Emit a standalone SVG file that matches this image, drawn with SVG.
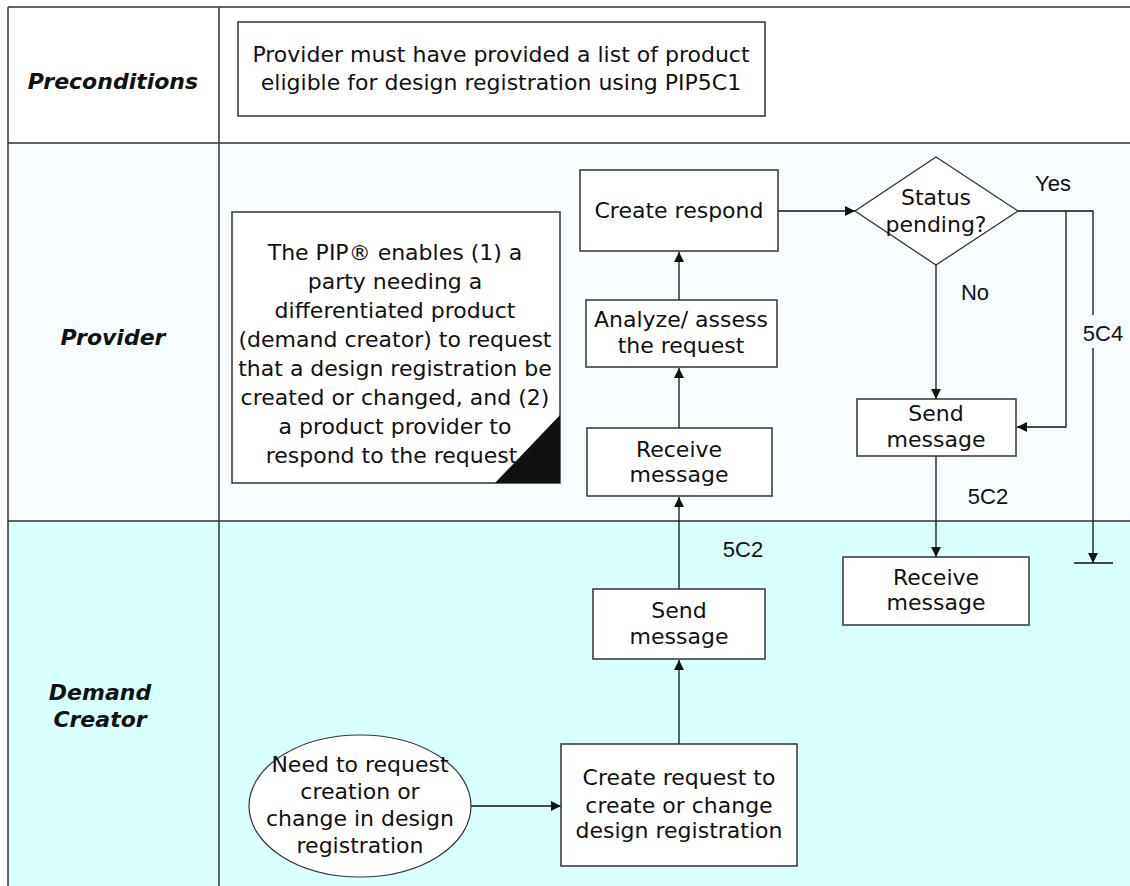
<svg xmlns="http://www.w3.org/2000/svg" width="1130" height="886" viewBox="0 0 1130 886">
<style>
.lane{font-family:"DejaVu Sans",Verdana,sans-serif;font-size:22px;font-weight:bold;font-style:italic;fill:#111;text-anchor:middle}
.t{font-family:"DejaVu Sans",Verdana,sans-serif;font-size:22px;fill:#111;text-anchor:middle}
.lbl{font-family:"Liberation Sans",Arial,sans-serif;font-size:22px;fill:#111;text-anchor:middle}
.box{fill:#fff;stroke:#333;stroke-width:1.5}
.c{fill:none;stroke:#111;stroke-width:1.3}
.frame{stroke:#333;stroke-width:1.5;fill:none}
</style>
<defs>
<marker id="ah" viewBox="0 0 10 10" refX="10" refY="5" markerWidth="10" markerHeight="10" markerUnits="userSpaceOnUse" orient="auto">
<path d="M0,0 L10,5 L0,10 z" fill="#111"/>
</marker>
</defs>
<g id="lanes">
<rect x="8" y="7" width="1122" height="136" fill="#ffffff"/>
<rect x="8" y="143" width="1122" height="378" fill="#f7fcfe"/>
<rect x="8" y="521" width="1122" height="365" fill="#d9ffff"/>
<line class="frame" x1="8" y1="7" x2="1130" y2="7" stroke="#555" stroke-width="2"/>
<line class="frame" x1="8" y1="7" x2="8" y2="886"/>
<line class="frame" x1="219" y1="7" x2="219" y2="886" stroke="#666"/>
<line class="frame" x1="8" y1="143" x2="1130" y2="143"/>
<line class="frame" x1="8" y1="521" x2="1130" y2="521"/>
<text class="lane" x="113" y="89">Preconditions</text>
<text class="lane" x="113" y="345">Provider</text>
<text class="lane" x="100" y="700">Demand</text>
<text class="lane" x="100" y="727">Creator</text>
</g>
<g id="connectors">
<line class="c" x1="679" y1="428" x2="679" y2="368" marker-end="url(#ah)"/>
<line class="c" x1="679" y1="300" x2="679" y2="252" marker-end="url(#ah)"/>
<line class="c" x1="778" y1="211" x2="855" y2="211" marker-end="url(#ah)"/>
<line class="c" x1="936" y1="265" x2="936" y2="399" marker-end="url(#ah)"/>
<polyline class="c" points="1018,211 1093,211 1093,563" marker-end="url(#ah)"/>
<line class="c" x1="1074" y1="563" x2="1113" y2="563"/>
<polyline class="c" points="1066,211 1066,427 1017,427" marker-end="url(#ah)"/>
<line class="c" x1="936" y1="456" x2="936" y2="557" marker-end="url(#ah)"/>
<line class="c" x1="679" y1="589" x2="679" y2="497" marker-end="url(#ah)"/>
<line class="c" x1="679" y1="744" x2="679" y2="660" marker-end="url(#ah)"/>
<line class="c" x1="471" y1="806" x2="561" y2="806" marker-end="url(#ah)"/>
<rect x="1082" y="315" width="44" height="33" fill="#f7fcfe"/>
<text class="lbl" x="1103" y="341">5C4</text>
<text class="lbl" x="1053" y="191">Yes</text>
<text class="lbl" x="975" y="300">No</text>
<text class="lbl" x="988" y="504">5C2</text>
<text class="lbl" x="743" y="557">5C2</text>
</g>
<g id="precondition">
<rect class="box" x="238" y="22" width="527" height="94"/>
<text class="t" x="501" y="62">Provider must have provided a list of product</text>
<text class="t" x="501" y="90">eligible for design registration using PIP5C1</text>
</g>
<g id="note">
<rect class="box" x="232" y="212" width="328" height="271"/>
<path d="M560,415 L560,483 L495,483 z" fill="#111"/>
<text class="t" x="395" y="260">The PIP® enables (1) a</text>
<text class="t" x="395" y="289">party needing a</text>
<text class="t" x="395" y="318">differentiated product</text>
<text class="t" x="395" y="347">(demand creator) to request</text>
<text class="t" x="395" y="376">that a design registration be</text>
<text class="t" x="395" y="405">created or changed, and (2)</text>
<text class="t" x="395" y="434">a product provider to</text>
<text class="t" x="395" y="463">respond to the request.</text>
</g>
<g id="create-respond">
<rect class="box" x="580" y="170" width="198" height="81"/>
<text class="t" x="679" y="218">Create respond</text>
</g>
<g id="analyze">
<rect class="box" x="586" y="300" width="191" height="67"/>
<text class="t" x="681" y="327">Analyze/ assess</text>
<text class="t" x="681" y="353">the request</text>
</g>
<g id="receive-provider">
<rect class="box" x="587" y="428" width="185" height="68"/>
<text class="t" x="679" y="457">Receive</text>
<text class="t" x="679" y="482">message</text>
</g>
<g id="status">
<polygon points="936,157 1018,211 936,265 855,211" fill="#fff" stroke="#333" stroke-width="1.3"/>
<text class="t" x="936" y="205">Status</text>
<text class="t" x="936" y="232">pending?</text>
</g>
<g id="send-provider">
<rect class="box" x="857" y="399" width="159" height="57"/>
<text class="t" x="936" y="421">Send</text>
<text class="t" x="936" y="447">message</text>
</g>
<g id="receive-demand">
<rect class="box" x="843" y="557" width="186" height="68"/>
<text class="t" x="936" y="585">Receive</text>
<text class="t" x="936" y="610">message</text>
</g>
<g id="send-demand">
<rect class="box" x="593" y="589" width="172" height="70"/>
<text class="t" x="679" y="618">Send</text>
<text class="t" x="679" y="644">message</text>
</g>
<g id="create-request">
<rect class="box" x="561" y="744" width="236" height="122"/>
<text class="t" x="679" y="785">Create request to</text>
<text class="t" x="679" y="813">create or change</text>
<text class="t" x="679" y="838">design registration</text>
</g>
<g id="need">
<ellipse cx="360" cy="806" rx="111" ry="71" fill="#fff" stroke="#333" stroke-width="1.2"/>
<text class="t" x="360" y="772">Need to request</text>
<text class="t" x="360" y="799">creation or</text>
<text class="t" x="360" y="826">change in design</text>
<text class="t" x="360" y="853">registration</text>
</g>
</svg>
